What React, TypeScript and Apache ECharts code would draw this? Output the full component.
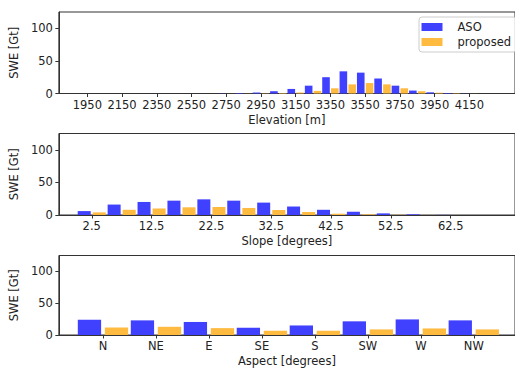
import React, { useEffect, useRef } from "react";
import * as echarts from "echarts";

// ---- Data ----
const elevationBins = [2750, 2850, 2950, 3050, 3150, 3250, 3350, 3450, 3550, 3650, 3750, 3850, 3950, 4050, 4150];
const elevationASO = [0.3, 0.8, 1.5, 3.5, 7, 12, 25, 34, 32, 23, 12, 4.5, 1.8, 0.8, 0.2];
const elevationProposed = [0.1, 0.2, 0.4, 0.8, 1.5, 4, 8, 14, 16, 14, 8, 3.5, 1.2, 0.5, 0.1];
const elevationTicks = [1950, 2150, 2350, 2550, 2750, 2950, 3150, 3350, 3550, 3750, 3950, 4150];

const slopeBins = [2.5, 7.5, 12.5, 17.5, 22.5, 27.5, 32.5, 37.5, 42.5, 47.5, 52.5, 57.5, 62.5];
const slopeASO = [6, 16, 20, 22, 24, 22, 19, 13, 8, 5, 2.5, 1, 0.2];
const slopeProposed = [4, 8, 10, 11.8, 12.3, 10.8, 7.7, 4.6, 2, 1, 0.3, 0.1, 0.05];
const slopeTicks = [2.5, 12.5, 22.5, 32.5, 42.5, 52.5, 62.5];

const aspectNames = ["N", "NE", "E", "SE", "S", "SW", "W", "NW"];
const aspectASO = [24, 23, 20.5, 11.3, 15, 21.5, 24.5, 23];
const aspectProposed = [11.9, 12.9, 10.8, 6.7, 6.7, 8.8, 10.3, 8.8];

const yTicks = [0, 50, 100];

const FONT = "DejaVu Sans";
const TXT = "#222222";
const SPINE = "#333333";
const BLUE = "#4040ff";
const ORANGE = "#ffbb40";
const FS = 11.5;

export default function App() {
  const ref = useRef<HTMLDivElement>(null);
  useEffect(() => {
    if (!ref.current) return;
    const chart = echarts.init(ref.current, null, { renderer: "svg" });

    const gridTops = [12, 133.5, 255.5];
    const grids = gridTops.map((t) => ({
      left: 57,
      top: t,
      width: 465,
      height: 81.5,
      show: true,
      borderColor: SPINE,
      borderWidth: 1,
      backgroundColor: "transparent",
    }));

    const xCommon = (gi: number, min: number, max: number, ticks: number[], name: string, fmt: (v: number) => string) => ({
      type: "value" as const,
      gridIndex: gi,
      min,
      max,
      name,
      nameLocation: "middle" as const,
      nameGap: 20,
      nameTextStyle: { fontSize: FS, color: TXT, fontFamily: FONT },
      axisLine: { show: true, onZero: false, lineStyle: { color: SPINE, width: 1 } },
      axisTick: { show: true, customValues: ticks, length: 3.5, lineStyle: { color: SPINE } },
      axisLabel: {
        show: true,
        customValues: ticks,
        formatter: (v: number) => fmt(v),
        fontSize: FS,
        color: TXT,
        fontFamily: FONT,
        margin: 5,
      },
      splitLine: { show: false },
    });

    const yCommon = (gi: number) => ({
      type: "value" as const,
      gridIndex: gi,
      min: 0,
      max: 125,
      name: "SWE [Gt]",
      nameLocation: "middle" as const,
      nameGap: 27,
      nameTextStyle: { fontSize: FS, color: TXT, fontFamily: FONT },
      axisLine: { show: true, onZero: false, lineStyle: { color: SPINE, width: 1 } },
      axisTick: { show: true, customValues: yTicks, length: 3.5, lineStyle: { color: SPINE } },
      axisLabel: {
        show: true,
        customValues: yTicks,
        fontSize: FS,
        color: TXT,
        fontFamily: FONT,
        margin: 6,
      },
      splitLine: { show: false },
    });

    const barSeries = (name: string, gi: number, xs: number[], ys: number[], color: string, w: number, gap: string) => ({
      type: "bar" as const,
      name,
      xAxisIndex: gi,
      yAxisIndex: gi,
      data: xs.map((x, i) => [x, ys[i]]),
      barWidth: w,
      barGap: gap,
      itemStyle: { color },
    });

    chart.setOption({
      animation: false,
      textStyle: { fontFamily: FONT },
      grid: grids,
      xAxis: [
        xCommon(0, 1786, 4413, elevationTicks, "Elevation [m]", (v) => String(v)),
        xCommon(1, -3, 73.25, slopeTicks, "Slope [degrees]", (v) => String(v)),
        xCommon(2, -0.833, 7.778, aspectNames.map((_, i) => i), "Aspect [degrees]", (v) => aspectNames[Math.round(v)] ?? ""),
      ],
      yAxis: [yCommon(0), yCommon(1), yCommon(2)],
      legend: {
        orient: "vertical",
        left: 419,
        top: 17,
        itemWidth: 21,
        itemHeight: 8,
        itemGap: 3,
        padding: [4, 5, 4, 2.5],
        backgroundColor: "rgba(255,255,255,0.8)",
        borderColor: "#cccccc",
        borderWidth: 1,
        borderRadius: 3,
        selectedMode: false,
        icon: "rect",
        data: ["ASO", "proposed"],
        textStyle: { fontSize: FS, color: TXT, fontFamily: FONT, padding: [0, 0, 0, 10] },
      },
      series: [
        barSeries("ASO", 0, elevationBins, elevationASO, BLUE, 7.6, "16%"),
        barSeries("proposed", 0, elevationBins, elevationProposed, ORANGE, 7.6, "16%"),
        barSeries("ASO", 1, slopeBins, slopeASO, BLUE, 13, "16%"),
        barSeries("proposed", 1, slopeBins, slopeProposed, ORANGE, 13, "16%"),
        barSeries("ASO", 2, aspectNames.map((_, i) => i), aspectASO, BLUE, 23.3, "16%"),
        barSeries("proposed", 2, aspectNames.map((_, i) => i), aspectProposed, ORANGE, 23.3, "16%"),
      ],
    });
    return () => chart.dispose();
  }, []);
  return (
    <div
      ref={ref}
      style={{ position: "absolute", left: 0, top: 0, width: 515, height: 368, overflow: "hidden", background: "#fff" }}
    />
  );
}
